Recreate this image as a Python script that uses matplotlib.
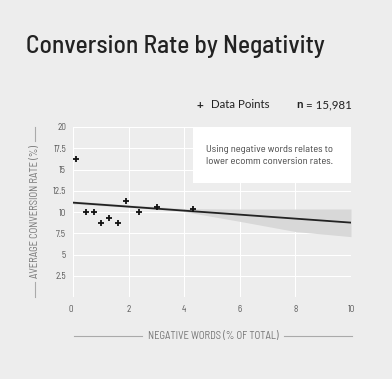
import numpy as np
import matplotlib
matplotlib.use('Agg')
import matplotlib.pyplot as plt
from matplotlib.lines import Line2D
from matplotlib.patches import Rectangle

# Dados
neg_words = [0.1, 0.47, 0.77, 1.0, 1.29, 1.62, 1.92, 2.36, 3.03, 4.3]
conv_rate = [16.2, 10.0, 10.0, 8.75, 9.3, 8.75, 11.3, 10.0, 10.6, 10.4]

fit_x = [0, 10]
fit_y = [11.1, 8.75]

ci_x = [0, 2, 4, 6, 8, 10]
ci_low = [10.95, 10.55, 10.05, 8.9, 7.7, 7.1]
ci_high = [11.3, 10.85, 10.4, 10.35, 10.35, 10.35]

x_ticks = [0, 2, 4, 6, 8, 10]
y_ticks = [2.5, 5, 7.5, 10, 12.5, 15, 17.5, 20]

bg = '#ededed'
plt.rcParams['font.family'] = ['Barlow Semi Condensed', 'DejaVu Sans']
legenda_fonte = ['Lato', 'DejaVu Sans']

W, H = 392, 379
fig = plt.figure(figsize=(W / 100, H / 100), dpi=100, facecolor=bg)

def fx(px):
    return px / W

def fy(py):
    return 1 - py / H

ax = fig.add_axes([fx(73), fy(297), fx(351) - fx(73), fy(127) - fy(297)])
ax.set_facecolor(bg)

# faixa de confiança e linha de tendência
ax.fill_between(ci_x, ci_low, ci_high, color='#d8d8d8', lw=0, zorder=2)
ax.plot(fit_x, fit_y, color='#222222', lw=1.3, zorder=3)
ax.plot(neg_words, conv_rate, ls='none', marker='+', ms=5, mew=1.3,
        color='#111111', zorder=4)

ax.set_xlim(0, 10)
ax.set_ylim(0, 20)
ax.set_xticks(x_ticks)
ax.set_yticks([0] + y_ticks)
ax.set_yticklabels([''] + [f'{v:g}' for v in y_ticks])
ax.tick_params(length=0, labelsize=6.5, labelcolor='#555555')
ax.tick_params(axis='x', pad=6)
ax.tick_params(axis='y', pad=5)
ax.xaxis.get_majorticklabels()[0].set_ha('right')
ax.grid(True, color='white', lw=0.8)
ax.set_axisbelow(True)
for s in ax.spines.values():
    s.set_visible(False)

# título
fig.text(fx(26), fy(46), 'Conversion Rate by Negativity', fontsize=18.3,
         color='#222222', va='center', ha='left', fontweight='medium')

# legenda
fig.text(fx(200), fy(105), '+', fontsize=8.5, color='#222222', va='center',
         ha='center', fontweight='bold', family=legenda_fonte)
fig.text(fx(211), fy(105), 'Data Points', fontsize=8.3, color='#222222',
         va='center', ha='left', family=legenda_fonte)
t_n = fig.text(fx(296), fy(105), 'n', fontsize=8.3, fontweight='bold',
               color='#222222', va='center', ha='left', family=legenda_fonte)
fig.canvas.draw()
bb = t_n.get_window_extent()
fig.text(bb.x1 / W + 4 / W, fy(105), '= 15,981', fontsize=8.3, color='#222222',
         va='center', ha='left', family=legenda_fonte)

# caixa de anotação
fig.patches.append(Rectangle((fx(193), fy(183)), fx(351) - fx(193),
                             fy(127) - fy(183), transform=fig.transFigure,
                             facecolor='white', edgecolor='none', zorder=5))
fig.text(fx(206), fy(155.5),
         'Using negative words relates to\nlower ecomm conversion rates.',
         fontsize=7.5, color='#444444', va='center', ha='left',
         linespacing=1.45, zorder=6)

# rótulos dos eixos com traços
fig.text(fx(35), fy(211.5), 'AVERAGE CONVERSION RATE (%)', rotation=90,
         fontsize=7.6, color='#777777', va='center', ha='center')
fig.add_artist(Line2D([fx(35), fx(35)], [fy(127), fy(141)], color='#aaaaaa', lw=0.8))
fig.add_artist(Line2D([fx(35), fx(35)], [fy(282), fy(297)], color='#aaaaaa', lw=0.8))

fig.text(fx(213), fy(336), 'NEGATIVE WORDS (% OF TOTAL)', fontsize=7.6,
         color='#777777', va='center', ha='center')
fig.add_artist(Line2D([fx(74), fx(142)], [fy(336), fy(336)], color='#aaaaaa', lw=0.8))
fig.add_artist(Line2D([fx(284), fx(352)], [fy(336), fy(336)], color='#aaaaaa', lw=0.8))

fig.savefig('out.png', dpi=100, facecolor=bg)
plt.close(fig)
